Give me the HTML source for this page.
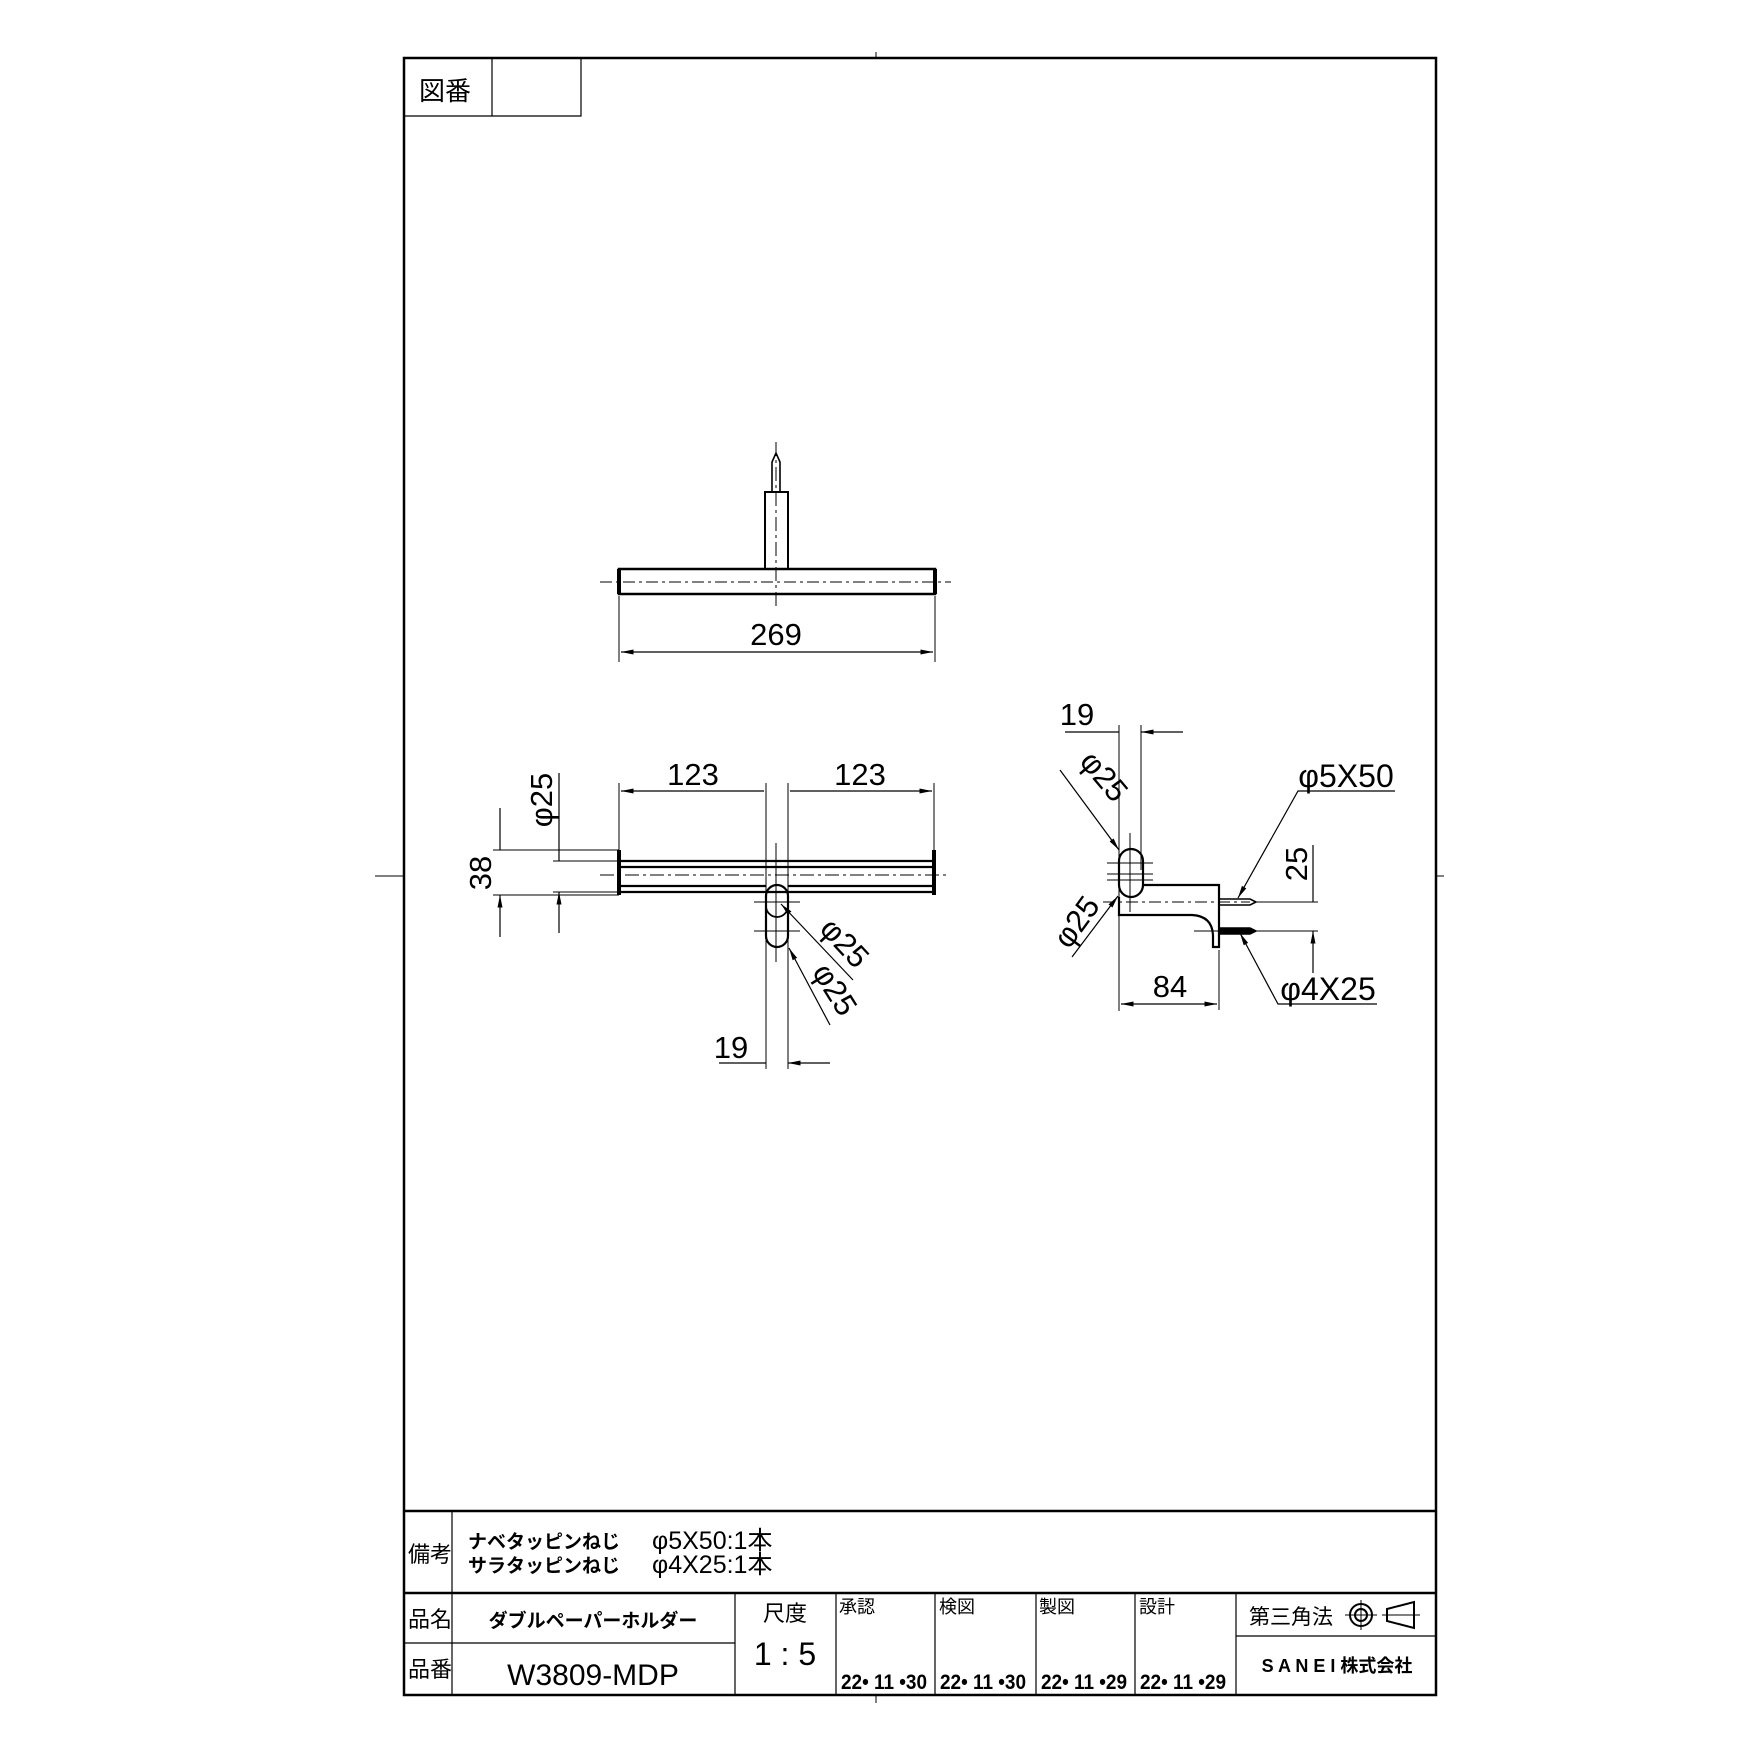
<!DOCTYPE html>
<html><head><meta charset="utf-8"><style>
html,body{margin:0;padding:0;background:#fff}
svg{display:block}
text{font-family:"Liberation Sans","Noto Sans CJK JP",sans-serif;fill:#000}
</style></head><body>
<svg width="1754" height="1754" viewBox="0 0 1754 1754" xmlns="http://www.w3.org/2000/svg">
<defs>
<marker id="a" viewBox="0 0 10 4" refX="10" refY="2" markerWidth="14" markerHeight="5" orient="auto-start-reverse" markerUnits="userSpaceOnUse"><path d="M0,0 L10,2 L0,4z" fill="#000"/></marker>
</defs>
<g stroke="#000" fill="none">
<rect x="404" y="58" width="1032" height="1637" stroke-width="2.5"/>
<path d="M404,116 H581 V58 M492,58 V116" stroke-width="1.2"/>
<path d="M876,52 V58 M876,1695 V1703 M375,876 H404 M1436,876 H1444" stroke-width="1"/>

<rect x="619" y="569" width="316" height="25" stroke-width="2.5"/>
<path d="M619,569 V594 M935,569 V594" stroke-width="4"/>
<rect x="765" y="492" width="23" height="77" stroke-width="2"/>
<path d="M772,492 V462 L776,453 L780,462 V492" stroke-width="1.6"/>
<path d="M600,582 H951" stroke-width="1" stroke-dasharray="12,4,3,4"/>
<path d="M776,442 V610" stroke-width="1" stroke-dasharray="14,4,3,4"/>
<path d="M619,596 V662 M935,596 V662" stroke-width="1"/>
<path d="M621,652 H933" stroke-width="1.2" marker-start="url(#a)" marker-end="url(#a)"/>

<path d="M619,861 H934 M619,867 H934 M619,886 H766 M788,886 H934 M619,892 H934" stroke-width="2.2"/>
<path d="M619,850 V895 M934,850 V895" stroke-width="4"/>
<path d="M600,875 H950" stroke-width="1" stroke-dasharray="14,4,3,4"/>
<path d="M766,896 A11,11 0 0 1 788,896 V936 A11,11 0 0 1 766,936 Z" stroke-width="2.2"/>
<path d="M766,906 A11,11 0 0 0 788,906 M766,936 A11,11 0 0 0 788,936" stroke-width="1.8"/>
<path d="M776,843 V962 M754,902 H800 M754,931 H800" stroke-width="1"/>
<path d="M493,850 H619 M493,895 H619 M553,861 H619 M553,892 H619" stroke-width="1"/>
<path d="M500,808 V850 M500,937 V895" stroke-width="1.2" marker-end="url(#a)"/>
<path d="M559,773 V861 M559,933 V892" stroke-width="1.2" marker-end="url(#a)"/>
<path d="M619,783 V850 M766,783 V1069 M788,783 V1069 M934,783 V850" stroke-width="1"/>
<path d="M621,791 H764 M790,791 H932" stroke-width="1.2" marker-start="url(#a)" marker-end="url(#a)"/>
<path d="M719,1063 H766 M830,1063 H788" stroke-width="1.2" marker-end="url(#a)"/>
<path d="M853,980 L781,904" stroke-width="1.2" marker-end="url(#a)"/>
<path d="M830,1025 L789,948" stroke-width="1.2" marker-end="url(#a)"/>

<path d="M1119,725 V1011 M1141,725 V870" stroke-width="1"/>
<path d="M1065,732 H1119 M1183,732 H1141" stroke-width="1.2" marker-end="url(#a)"/>
<path d="M1119,861 A12,12 0 0 1 1143,861 V885 A12,12 0 0 1 1119,885 Z" stroke-width="2.2"/>
<path d="M1119,885 A12,12 0 0 0 1143,885" stroke-width="1.6"/>
<path d="M1143,885 H1219 V947 H1213 V935 Q1212,916 1192,915 H1119 V897" stroke-width="2.2"/>
<path d="M1130,833 V912 M1107,863 H1153 M1107,874 H1153 M1107,880 H1153" stroke-width="1"/>
<path d="M1103,902 H1250" stroke-width="1" stroke-dasharray="12,4,3,4"/>
<path d="M1219,899 H1250 L1256,902 L1250,905 H1219 Z" stroke-width="1.6"/>
<path d="M1219,928 H1250 L1256,931 L1250,934 H1219 Z" stroke-width="1.6" fill="#000"/>
<path d="M1256,902 H1318 M1194,931 H1318" stroke-width="1"/>
<path d="M1313,845 V902 M1313,973 V931" stroke-width="1.2" marker-end="url(#a)"/>
<path d="M1060,770 L1119,850" stroke-width="1.2" marker-end="url(#a)"/>
<path d="M1072,957 L1118,896" stroke-width="1.2" marker-end="url(#a)"/>
<path d="M1395,791 H1298 L1238,898" stroke-width="1.2" marker-end="url(#a)"/>
<path d="M1377,1004 H1278 L1240,933" stroke-width="1.2" marker-end="url(#a)"/>
<path d="M1219,950 V1010" stroke-width="1"/>
<path d="M1121,1004 H1217" stroke-width="1.2" marker-start="url(#a)" marker-end="url(#a)"/>

<path d="M404,1511 H1436 M404,1593 H1436" stroke-width="2.5"/>
<path d="M452,1511 V1695 M404,1643 H735 M735,1593 V1695 M836,1593 V1695 M935,1593 V1695 M1036,1593 V1695 M1135,1593 V1695 M1236,1593 V1695 M1236,1636 H1436" stroke-width="1.2"/>
<circle cx="1361" cy="1615" r="11" stroke-width="2"/>
<circle cx="1361" cy="1615" r="6" stroke-width="2"/>
<path d="M1345,1615 H1377 M1361,1600 V1630" stroke-width="1"/>
<path d="M1387,1609 L1414,1602 V1628 L1387,1621 Z" stroke-width="2"/>
<path d="M1382,1615 H1420" stroke-width="1"/>
</g>

<g font-size="31">
<text x="776" y="645" text-anchor="middle">269</text>
<text x="693" y="785" text-anchor="middle">123</text>
<text x="860" y="785" text-anchor="middle">123</text>
<text x="731" y="1058" text-anchor="middle">19</text>
<text x="1077" y="725" text-anchor="middle">19</text>
<text x="1170" y="997" text-anchor="middle">84</text>
<text x="1346" y="787" text-anchor="middle" font-size="32">φ5X50</text>
<text x="1328" y="1000" text-anchor="middle" font-size="32">φ4X25</text>
<text transform="translate(491,873) rotate(-90)" text-anchor="middle">38</text>
<text transform="translate(552,800) rotate(-90)" text-anchor="middle">φ25</text>
<text transform="translate(1307,864) rotate(-90)" text-anchor="middle">25</text>
<text transform="translate(837,950) rotate(47)" text-anchor="middle">φ25</text>
<text transform="translate(826,995) rotate(58)" text-anchor="middle">φ25</text>
<text transform="translate(1096,783) rotate(50)" text-anchor="middle">φ25</text>
<text transform="translate(1085,928) rotate(-54)" text-anchor="middle">φ25</text>
</g>

<g font-size="22">
<text x="419" y="100" font-size="26">図番</text>
<text x="408" y="1562">備考</text>
<text x="408" y="1627">品名</text>
<text x="408" y="1677">品番</text>
<text x="785" y="1621" text-anchor="middle">尺度</text>
<text x="1249" y="1624" font-size="21">第三角法</text>
</g>
<g font-size="19" font-weight="bold">
<text x="468" y="1548">ナベタッピンねじ</text>
<text x="468" y="1572">サラタッピンねじ</text>
<text x="593" y="1627" text-anchor="middle">ダブルペーパーホルダー</text>
<text x="1337" y="1672" text-anchor="middle" font-size="18">S A N E I  株式会社</text>
</g>
<g font-size="25">
<text x="652" y="1549">φ5X50:1本</text>
<text x="652" y="1573">φ4X25:1本</text>
</g>
<text x="593" y="1685" text-anchor="middle" font-size="30">W3809-MDP</text>
<text x="785" y="1665" text-anchor="middle" font-size="32">1 : 5</text>
<g font-size="18">
<text x="839" y="1613">承認</text>
<text x="939" y="1613">検図</text>
<text x="1039" y="1613">製図</text>
<text x="1139" y="1613">設計</text>
</g>
<g font-size="21" font-weight="bold">
<text x="841" y="1689" textLength="86" lengthAdjust="spacingAndGlyphs">22• 11 •30</text>
<text x="940" y="1689" textLength="86" lengthAdjust="spacingAndGlyphs">22• 11 •30</text>
<text x="1041" y="1689" textLength="86" lengthAdjust="spacingAndGlyphs">22• 11 •29</text>
<text x="1140" y="1689" textLength="86" lengthAdjust="spacingAndGlyphs">22• 11 •29</text>
</g>
</svg>
</body></html>
